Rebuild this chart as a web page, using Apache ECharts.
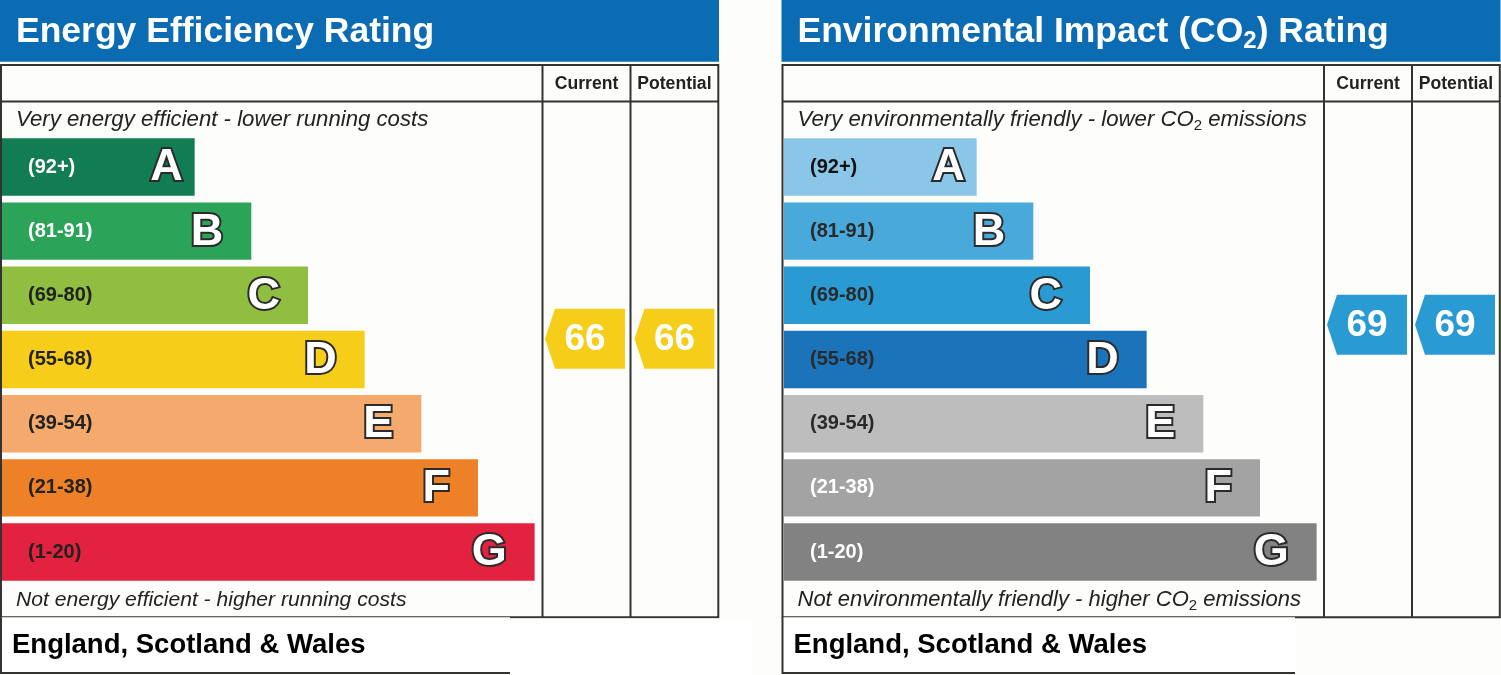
<!DOCTYPE html>
<html><head><meta charset="utf-8">
<script src="https://cdn.jsdelivr.net/npm/echarts@6/dist/echarts.min.js"></script>
<style>html,body{margin:0;padding:0;background:#fdfdfb;}#c{width:1501px;height:675px;}</style>
</head><body><div id="c"></div>
<script>
// ---- data ----
const bands = ['A','B','C','D','E','F','G'];
const rangeLabels = ['(92+)','(81-91)','(69-80)','(55-68)','(39-54)','(21-38)','(1-20)'];
const rangeMin = [92,81,69,55,39,21,1];
const rangeMax = [100,91,80,68,54,38,20];
const barLengths = [34,44,54,64,74,84,94];
const ratingColumns = ['Current','Potential'];
const energyRatings = [66,66];
const co2Ratings = [69,69];
const energyColors = ['#127d52','#2ba45a','#8fbe41','#f6cd18','#f3aa6c','#ee8128','#e2223f'];
const energyLabelColors = ['#ffffff','#ffffff','#222222','#222222','#222222','#222222','#222222'];
const co2Colors = ['#8ac6e7','#4aa9db','#2a9ad3','#1b74ba','#bdbdbd','#a3a3a3','#828282'];
const co2LabelColors = ['#111111','#2a2a2a','#2a2a2a','#2a2a2a','#2a2a2a','#ffffff','#ffffff'];
const energyTitle = 'Energy Efficiency Rating';
const energyTop = 'Very energy efficient - lower running costs';
const energyBottom = 'Not energy efficient - higher running costs';
const regionLabel = 'England, Scotland & Wales';

const FF = '"Liberation Sans", Arial, sans-serif';
const chart = echarts.init(document.getElementById('c'), null, {renderer:'canvas'});

const panels = [{x0:0, gridLeft:2, tipOff:[3,4.5]}, {x0:781.5, gridLeft:784, tipOff:[3,3]}];
const GRID_W = 540, COL_W = 88;

function barRender(colors, labelColors){
  return function(params, api){
    const i = api.value(1);
    const p0 = api.coord([0, i]);
    const p1 = api.coord([api.value(0), i]);
    const bandH = api.size([0,1])[1];
    const h = bandH * 0.895;
    const inset = i === 0 ? 12 : 28;
    return {type:'group', children:[
      {type:'rect', shape:{x:p0[0], y:p0[1]-h/2, width:p1[0]-p0[0], height:h}, style:{fill:colors[i]}},
      {type:'text', x:p0[0]+26, y:p0[1], style:{text:rangeLabels[i], fill:labelColors[i], font:'bold 20px '+FF, align:'left', verticalAlign:'middle'}},
      {type:'text', x:p1[0]-inset, y:p0[1]+1, style:{text:bands[i], fill:'#ffffff', stroke:'#2b2b2b', lineWidth:4, strokeFirst:true, font:'bold 45px '+FF, align:'right', verticalAlign:'middle'}}
    ]};
  };
}
function arrowRender(gridLeft, color, tipOff){
  return function(params, api){
    const r = api.value(0), j = params.dataIndex;
    let i = 0;
    for (let k=0;k<bands.length;k++){ if (r>=rangeMin[k] && r<=rangeMax[k]) { i=k; break; } }
    const c = api.coord([0, i]);
    const bandH = api.size([0,1])[1];
    const bottom = c[1] + bandH/2;
    const frac = (r - (rangeMin[i]-0.5)) / (rangeMax[i]-rangeMin[i]+1);
    const y = bottom - frac*bandH;
    const colLeft = gridLeft + GRID_W + j*COL_W;
    const x0 = colLeft + tipOff[j], x1 = x0 + 80, hh = 30;
    return {type:'group', children:[
      {type:'polygon', shape:{points:[[x0,y],[x0+10,y-hh],[x1,y-hh],[x1,y+hh],[x0+10,y+hh]]}, style:{fill:color}},
      {type:'text', x:(x0+x1)/2, y:y+1, style:{text:String(r), fill:'#ffffff', font:'bold 37px '+FF, align:'center', verticalAlign:'middle'}}
    ]};
  };
}

const graphics = [];
function panelGraphics(x0, title, topText, topSize, bottomText, bottomSize, boxRight){
  const L = x0 + 1, R = x0 + 718.3, T = 65, B = 617.3, H = 101.5;
  const c1 = x0 + 542.5, c2 = x0 + 630.5;
  graphics.push({type:'rect', shape:{x:x0, y:0, width:719, height:61.7}, style:{fill:'#0b6bb3'}, z:1});
  graphics.push({type:'rect', shape:{x:L, y:T, width:R-L, height:B-T}, style:{fill:'#fdfdfc', stroke:'#333', lineWidth:2}, z:1});
  graphics.push({type:'line', shape:{x1:L, y1:H, x2:R, y2:H}, style:{stroke:'#333', lineWidth:2}, z:1});
  graphics.push({type:'line', shape:{x1:c1, y1:T, x2:c1, y2:B}, style:{stroke:'#333', lineWidth:2}, z:1});
  graphics.push({type:'line', shape:{x1:c2, y1:T, x2:c2, y2:B}, style:{stroke:'#333', lineWidth:2}, z:1});
  graphics.push({type:'rect', shape:{x:L, y:B, width:boxRight-L, height:673-B}, style:{fill:'#ffffff'}, z:1});
  graphics.push({type:'polyline', shape:{points:[[L,B],[L,673],[boxRight,673]]}, style:{stroke:'#333', lineWidth:2, fill:null}, z:2});
  graphics.push({type:'text', x:(c1+c2)/2, y:84, style:{text:ratingColumns[0], fill:'#222', font:'bold 17.6px '+FF, align:'center', verticalAlign:'middle'}, z:3});
  graphics.push({type:'text', x:(c2+R)/2, y:84, style:{text:ratingColumns[1], fill:'#222', font:'bold 17.6px '+FF, align:'center', verticalAlign:'middle'}, z:3});
  graphics.push({type:'text', x:x0+16, y:32, style:Object.assign({fill:'#fff', font:'bold 35.5px '+FF, align:'left', verticalAlign:'middle'}, title), z:3});
  graphics.push({type:'text', x:x0+16, y:120, style:Object.assign({fill:'#222', font:'italic '+topSize+'px '+FF, align:'left', verticalAlign:'middle'}, topText), z:3});
  graphics.push({type:'text', x:x0+16, y:600, style:Object.assign({fill:'#222', font:'italic '+bottomSize+'px '+FF, align:'left', verticalAlign:'middle'}, bottomText), z:3});
  graphics.push({type:'text', x:x0+12, y:645, style:{text:regionLabel, fill:'#000', font:'bold 27.5px '+FF, align:'left', verticalAlign:'middle'}, z:3});
}
panelGraphics(0, {text:energyTitle}, {text:energyTop}, 22.2, {text:energyBottom}, 21.1, 510);
const sub = (fs, lh, col, w, st) => ({
  t:{fontSize:fs, fontWeight:w, fontStyle:st, fontFamily:FF, color:col, lineHeight:lh, verticalAlign:'middle'},
  s:{fontSize:Math.round(fs*0.68), fontWeight:w, fontStyle:'normal', fontFamily:FF, color:col, lineHeight:Math.round(fs*0.68), verticalAlign:'bottom'}
});
panelGraphics(781.5,
  {text:'{t|Environmental Impact (CO}{s|2}{t|) Rating}', rich:sub(35.5, 42, '#fff', 'bold', 'normal')},
  {text:'{t|Very environmentally friendly - lower CO}{s|2}{t| emissions}', rich:sub(22.2, 27, '#222', 'normal', 'italic')}, 22.2,
  {text:'{t|Not environmentally friendly - higher CO}{s|2}{t| emissions}', rich:sub(22, 27, '#222', 'normal', 'italic')}, 22,
  1295);
graphics.push({type:'rect', shape:{x:510, y:618.5, width:242, height:56.5}, style:{fill:'#ffffff'}, z:1});

const option = {
  animation:false,
  backgroundColor:'#fdfdfb',
  graphic: graphics,
  grid: panels.map(p => ({left:p.gridLeft, top:134.9, width:GRID_W, height:449.2})),
  xAxis: panels.map((p,k) => ({type:'value', gridIndex:k, min:0, max:95.3, show:false})),
  yAxis: panels.map((p,k) => ({type:'category', gridIndex:k, data:bands, inverse:true, show:false})),
  series: [
    {type:'custom', xAxisIndex:0, yAxisIndex:0, z:5, renderItem:barRender(energyColors, energyLabelColors), encode:{x:0,y:1}, data:barLengths.map((v,i)=>[v,i])},
    {type:'custom', xAxisIndex:1, yAxisIndex:1, z:5, renderItem:barRender(co2Colors, co2LabelColors), encode:{x:0,y:1}, data:barLengths.map((v,i)=>[v,i])},
    {type:'custom', xAxisIndex:0, yAxisIndex:0, z:6, renderItem:arrowRender(panels[0].gridLeft, energyColors[3], panels[0].tipOff), encode:{x:0,y:1}, data:energyRatings.map((r,j)=>[r,j])},
    {type:'custom', xAxisIndex:1, yAxisIndex:1, z:6, renderItem:arrowRender(panels[1].gridLeft, co2Colors[2], panels[1].tipOff), encode:{x:0,y:1}, data:co2Ratings.map((r,j)=>[r,j])}
  ]
};
chart.setOption(option);
</script></body></html>
